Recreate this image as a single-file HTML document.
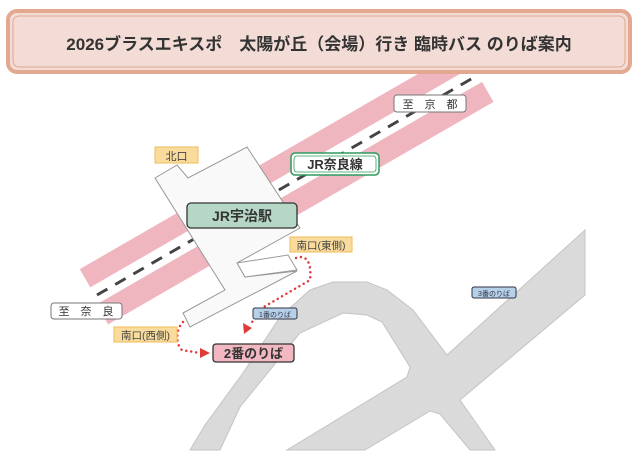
<!DOCTYPE html>
<html><head><meta charset="utf-8"><style>
html,body{margin:0;padding:0;background:#fff;width:640px;height:460px;overflow:hidden}
svg{display:block}
text{font-family:"Liberation Sans","Noto Sans CJK JP",sans-serif}
</style></head><body>
<svg width="640" height="460" viewBox="0 0 640 460">
<defs><clipPath id="c"><rect x="0" y="74" width="640" height="400"/></clipPath></defs>
<!-- roads -->
<polygon points="190,450 205,425 243,373 280,317 310,290 333,282 367,282 387,290 413,310 447,355 585,230 585,295 460,400 495,450 470,450 440,414 430,411 365,450 287,450 407,377 410,367 382,322 367,315 343,313 300,333 270,370 240,407 220,450" fill="#dadada" stroke="#c4c4c4" stroke-width="1"/>
<!-- tracks -->
<g clip-path="url(#c)">
<g transform="translate(97,295) rotate(-30)">
<rect x="-2" y="-31" width="520" height="21" fill="#efb6c0"/>
<rect x="-5" y="8" width="445" height="23" fill="#efb6c0"/>
<line x1="0" y1="0" x2="434" y2="0" stroke="#444" stroke-width="3" stroke-dasharray="12 9"/>
</g></g>
<!-- station -->
<polygon points="155,178 177,165 188,178 247,147 300,228 237,263 245,277 297,271 190,327 183,313 225,290" fill="#f9f9f9" stroke="#999" stroke-width="1"/>
<polygon points="237,263 288,255 297,270 245,277" fill="#fff" stroke="#999" stroke-width="1"/>
<!-- dotted routes -->
<path d="M296,258 C306,254 312,262 310,280 L262,308 L250,325" fill="none" stroke="#e03a3a" stroke-width="2.5" stroke-linecap="round" stroke-dasharray="0 5"/>
<polygon points="244,334 243,323 252,328" fill="#e03a3a"/>
<path d="M183,322 C175,330 176,345 182,350 L200,353" fill="none" stroke="#e03a3a" stroke-width="2.5" stroke-linecap="round" stroke-dasharray="0 5"/>
<polygon points="210,353 200,348 200,358" fill="#e03a3a"/>
<!-- title -->
<rect x="8" y="11" width="622" height="61" rx="9" fill="#f3dcd6" stroke="#e2a890" stroke-width="4"/>
<rect x="13" y="16" width="612" height="51" rx="6" fill="none" stroke="#e2a890" stroke-width="1"/>
<text x="319" y="50" text-anchor="middle" font-size="17" font-weight="bold" fill="#333">2026ブラスエキスポ　太陽が丘（会場）行き 臨時バス のりば案内</text>
<!-- labels -->
<rect x="394" y="95" width="72" height="17" rx="3" fill="#fff" stroke="#777"/>
<text x="430" y="108" text-anchor="middle" font-size="11" fill="#333">至　京　都</text>
<rect x="155" y="147" width="43" height="16" fill="#f9dc9c" stroke="#efbb5a"/>
<text x="176.5" y="160" text-anchor="middle" font-size="11" fill="#444">北口</text>
<rect x="291" y="153" width="88" height="22" rx="4" fill="#fff" stroke="#2e9a5e" stroke-width="1.5"/>
<rect x="294" y="156" width="82" height="16" rx="3" fill="none" stroke="#2e9a5e" stroke-width="0.8"/>
<text x="335" y="169" text-anchor="middle" font-size="13" font-weight="bold" fill="#333">JR奈良線</text>
<rect x="187" y="203" width="110" height="25" rx="4" fill="#b6d7c6" stroke="#333" stroke-width="1.3"/>
<text x="242" y="221" text-anchor="middle" font-size="14" font-weight="bold" fill="#333">JR宇治駅</text>
<rect x="290" y="237" width="62" height="15" fill="#f9dc9c" stroke="#efbb5a"/>
<text x="321" y="249" text-anchor="middle" font-size="10.5" fill="#444">南口(東側)</text>
<rect x="51" y="303" width="71" height="16" rx="3" fill="#fff" stroke="#777"/>
<text x="86" y="315" text-anchor="middle" font-size="11" fill="#333">至　奈　良</text>
<rect x="253" y="308" width="44" height="11" rx="2" fill="#b5d0e8" stroke="#334" stroke-width="1"/>
<text x="275" y="317" text-anchor="middle" font-size="7" fill="#334">1番のりば</text>
<rect x="472" y="287" width="44" height="11" rx="2" fill="#b5d0e8" stroke="#334" stroke-width="1"/>
<text x="494" y="296" text-anchor="middle" font-size="7" fill="#334">3番のりば</text>
<rect x="114" y="327" width="63" height="15" fill="#f9dc9c" stroke="#efbb5a"/>
<text x="145.5" y="339" text-anchor="middle" font-size="10.5" fill="#444">南口(西側)</text>
<rect x="213" y="344" width="81" height="18" rx="3" fill="#f2b8c2" stroke="#333" stroke-width="1.3"/>
<text x="253.5" y="358" text-anchor="middle" font-size="13" font-weight="bold" fill="#333">2番のりば</text>
</svg>
</body></html>
